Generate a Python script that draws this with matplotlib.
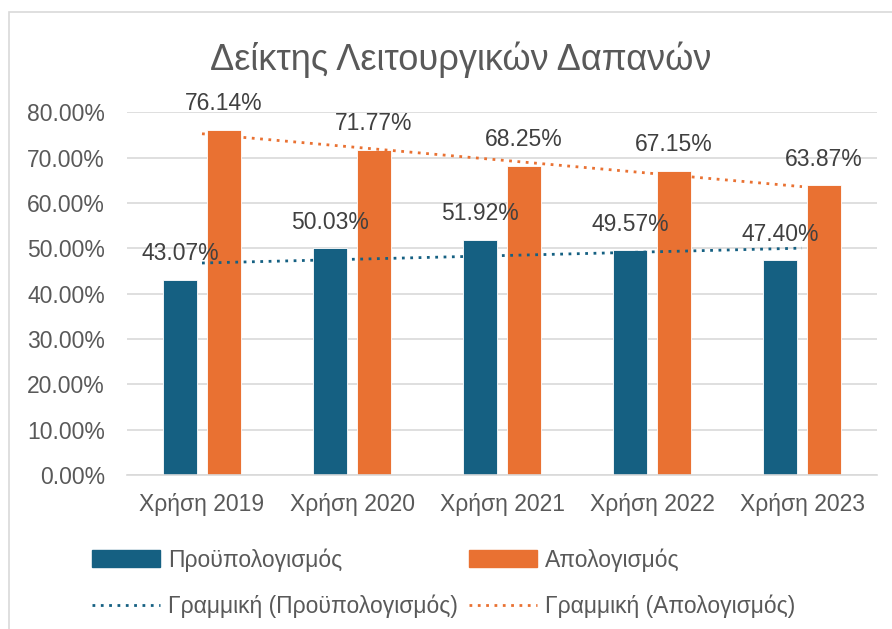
import matplotlib.pyplot as plt
from matplotlib.patches import Rectangle, Patch
from matplotlib.lines import Line2D
from matplotlib.ticker import PercentFormatter
import numpy as np

# Data
years = ['Χρήση 2019', 'Χρήση 2020', 'Χρήση 2021', 'Χρήση 2022', 'Χρήση 2023']
budget = [43.07, 50.03, 51.92, 49.57, 47.40]     # Προϋπολογισμός
actual = [76.14, 71.77, 68.25, 67.15, 63.87]     # Απολογισμός

BLUE = '#156082'
ORANGE = '#E97132'
TEXT = '#595959'
GRID = '#D9D9D9'
FS = 16.5

plt.rcParams['font.family'] = ['Liberation Sans', 'DejaVu Sans']

fig = plt.figure(figsize=(8.92, 6.29), dpi=100)
ax = fig.add_axes([127 / 892, 1 - 475 / 629, 750 / 892, (475 - 112.3) / 629])

# chart frame
fig.patches.append(Rectangle((9 / 892, -0.1), 1.2, 1 - 12 / 629 + 0.1, transform=fig.transFigure,
                             fill=False, edgecolor=GRID, lw=1.2))

x = np.arange(len(years))
w = 0.225
off = 0.145
b1 = ax.bar(x - off, budget, w, color=BLUE, edgecolor='white', lw=0.6, zorder=2)
b2 = ax.bar(x + off, actual, w, color=ORANGE, edgecolor='white', lw=0.6, zorder=2)

# linear trendlines
for vals, col in [(budget, BLUE), (actual, ORANGE)]:
    k, d = np.polyfit(x, vals, 1)
    ax.plot(x, k * x + d, color=col, lw=2, linestyle=(0, (1, 2)), zorder=3)

# data labels
for bars, vals in [(b1, budget), (b2, actual)]:
    for bar, v in zip(bars, vals):
        ax.annotate(f'{v:.2f}%', (bar.get_x() + bar.get_width() / 2, v),
                    xytext=(0, 14), textcoords='offset points', ha='center', va='baseline',
                    fontsize=FS, color='#404040', zorder=4, annotation_clip=False)

ax.set_xlim(-0.5, 4.5)
ax.set_ylim(0, 80)
ax.set_yticks(np.arange(0, 81, 10))
ax.yaxis.set_major_formatter(PercentFormatter(decimals=2))
ax.set_xticks(x)
ax.set_xticklabels(years)
ax.tick_params(axis='both', length=0, labelsize=FS, colors=TEXT)
ax.tick_params(axis='y', pad=16)
ax.tick_params(axis='x', pad=13)
ax.grid(axis='y', color=GRID, lw=1.2, zorder=0)
ax.set_axisbelow(True)
for s in ['top', 'right', 'left']:
    ax.spines[s].set_visible(False)
ax.spines['bottom'].set_color(GRID)
ax.spines['bottom'].set_linewidth(1.2)

fig.text(461 / 892, 1 - 60 / 629, 'Δείκτης Λειτουργικών Δαπανών', ha='center', va='center',
         fontsize=26, color=TEXT)

handles = [Patch(color=BLUE), Line2D([], [], color=BLUE, lw=2, linestyle=(0, (1, 2))),
           Patch(color=ORANGE), Line2D([], [], color=ORANGE, lw=2, linestyle=(0, (1, 2)))]
labels = ['Προϋπολογισμός', 'Γραμμική (Προϋπολογισμός)',
          'Απολογισμός', 'Γραμμική (Απολογισμός)']
fig.legend(handles, labels, ncol=2, loc='upper left', bbox_to_anchor=(92 / 892, 1 - 548 / 629),
           frameon=False, fontsize=FS, labelcolor=TEXT, handlelength=2.97, handleheight=0.75,
           handletextpad=0.35, columnspacing=0.48, labelspacing=1.0, borderpad=0,
           borderaxespad=0)

fig.savefig('out.png', dpi=100)
